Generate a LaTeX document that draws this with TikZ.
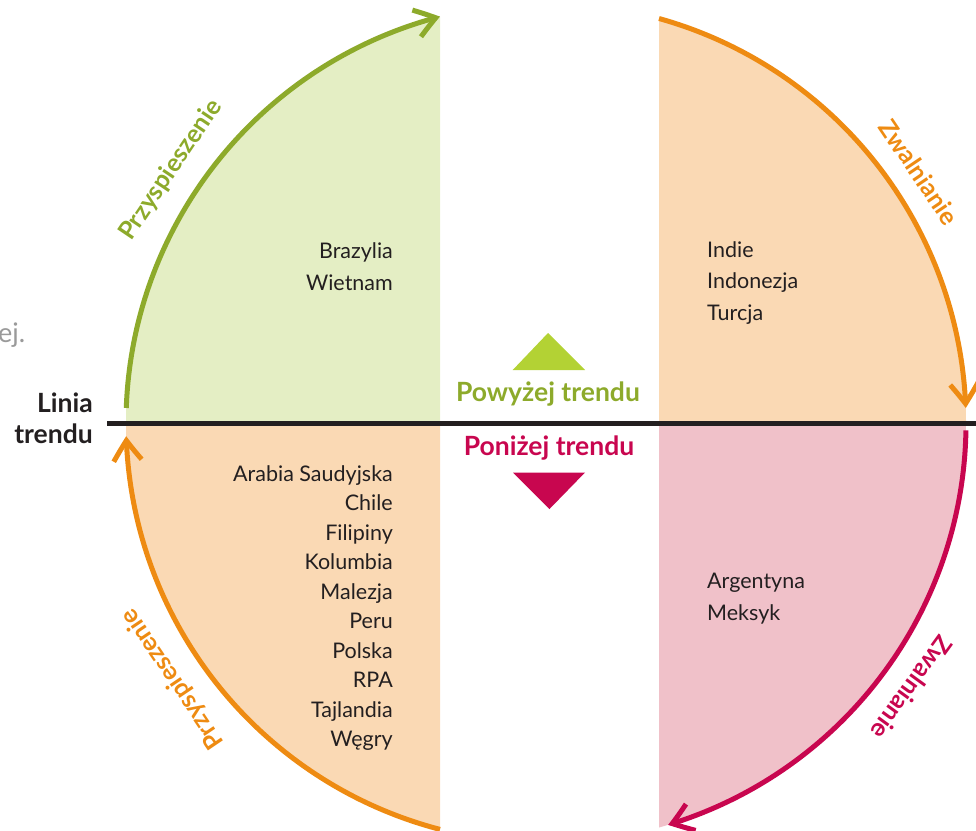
\documentclass[tikz,border=0pt]{standalone}
\usepackage{fontspec}
\setmainfont{Lato}
\usetikzlibrary{arrows.meta,bending}
\definecolor{grnline}{HTML}{8DAA2B}
\definecolor{grnfill}{HTML}{E4EEC4}
\definecolor{grntri}{HTML}{B3D234}
\definecolor{orgline}{HTML}{EE8B12}
\definecolor{orgfill}{HTML}{FAD9B4}
\definecolor{magline}{HTML}{C8064F}
\definecolor{magfill}{HTML}{F0C1C9}
\definecolor{ink}{HTML}{231F20}
\definecolor{greytxt}{HTML}{9A9A9A}
\begin{document}
\begin{tikzpicture}[x=1pt,y=-1pt,
  arcline/.style={line width=5pt,-{Straight Barb[length=20pt,width=28pt,bend]}},
  arclab/.style={font=\fontsize{25}{27}\selectfont\bfseries, inner sep=0pt},
  item/.style={font=\fontsize{21.5}{24}\selectfont, text=ink, inner sep=0pt},
  trendlab/.style={font=\fontsize{26.5}{28}\selectfont\bfseries, inner sep=0pt}]
\useasboundingbox (0,0) rectangle (976,830);
\coordinate (O) at (546,423);
\coordinate (cL) at (440,423);
\coordinate (cR) at (659,423);
% fills (one circle, centre O, radius 420)
\fill[grnfill] (cL) -- ([shift={(180:420)}]O) arc[start angle=180,end angle=255.38,radius=420] -- cycle;
\fill[orgfill] (cR) -- ([shift={(285.61:420)}]O) arc[start angle=285.61,end angle=360,radius=420] -- cycle;
\fill[orgfill] (cL) -- ([shift={(104.62:420)}]O) arc[start angle=104.62,end angle=180,radius=420] -- cycle;
\fill[magfill] (cR) -- ([shift={(0:420)}]O) arc[start angle=0,end angle=74.39,radius=420] -- cycle;
% trend line
\coordinate (lineL) at (107,423);
\coordinate (lineR) at (976,423);
\draw[ink, line width=5pt] (lineL) -- (lineR);
% arcs
\draw[arcline, grnline] ([shift={(182.05:420)}]O) arc[start angle=182.05,end angle=255.38,radius=420];
\draw[arcline, orgline] ([shift={(285.61:420)}]O) arc[start angle=285.61,end angle=357.95,radius=420];
\draw[arcline, orgline] ([shift={(104.62:420)}]O) arc[start angle=104.62,end angle=178.2,radius=420];
\draw[arcline, magline] ([shift={(1:420)}]O) arc[start angle=1,end angle=73.11,radius=420];
% arc labels
\node[arclab, text=grnline, rotate=56] (lblTL) at (171,170) {Przyspieszenie};
\node[arclab, text=orgline, rotate=-56] (lblTR) at (919,172) {Zwalnianie};
\node[arclab, text=orgline, rotate=124] (lblBL) at (173,679) {Przyspieszenie};
\node[arclab, text=magline, rotate=-126] (lblBR) at (912,688) {Zwalnianie};
% trend labels
\node[trendlab, text=ink, anchor=base east] (linia) at (93,412) {Linia};
\node[trendlab, text=ink, anchor=base east] (trendu) at (93,443) {trendu};
\node[trendlab, text=grnline, anchor=base] (above) at (548,401.5) {Powyżej trendu};
\node[trendlab, text=magline, anchor=base] (below) at (549,455) {Poniżej trendu};
% triangles
\fill[grntri] (512.7,370) -- (585,370) -- (548,333) -- cycle;
\fill[magline] (513,472.5) -- (585,472.5) -- (549.5,509) -- cycle;
% country lists
\node[item, anchor=base east] (tl1) at (393,258) {Brazylia};
\node[item, anchor=base east] (tl2) at (393,290) {Wietnam};
\node[item, anchor=base west] (tr1) at (707,257) {Indie};
\node[item, anchor=base west] (tr2) at (707,288.5) {Indonezja};
\node[item, anchor=base west] (tr3) at (707,320) {Turcja};
\node[item, anchor=base west] (br1) at (707,588) {Argentyna};
\node[item, anchor=base west] (br2) at (707,620) {Meksyk};
\foreach \t [count=\i] in {Arabia Saudyjska, Chile, Filipiny, Kolumbia, Malezja, Peru, Polska, RPA, Tajlandia, Węgry}
  \node[item, anchor=base east] (bl\i) at (393,{481.5+(\i-1)*29.44}) {\t};
% cropped text at left
\node[font=\fontsize{27}{30}\selectfont, text=greytxt, anchor=base west, inner sep=0pt] (ej) at (-2,342) {ej.};
\end{tikzpicture}
\end{document}
